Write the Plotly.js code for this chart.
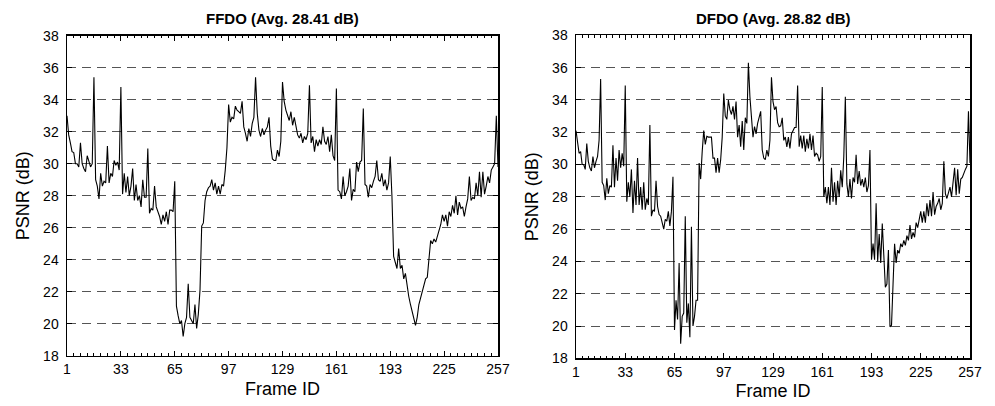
<!DOCTYPE html>
<html>
<head>
<meta charset="utf-8">
<script src="https://cdn.plot.ly/plotly-3.0.1.min.js"></script>
<style>
  html, body { margin: 0; padding: 0; background: #fff; }
  #chart { width: 995px; height: 406px; }
</style>
</head>
<body>
<div id="chart"></div>
<script>
// PSNR per frame (dB), FFDO method
const ffdoPSNR = [
  33.0, 31.8, 31.3, 30.75, 30.7, 30.0, 30.0, 29.8, 31.3, 30.0,
  29.7, 29.5, 30.5, 30.1, 29.8, 30.0, 35.4, 29.0, 28.6, 27.8,
  29.4, 28.6, 28.9, 28.8, 31.1, 28.8, 29.4, 29.2, 30.2, 29.9,
  30.1, 29.6, 34.8, 28.1, 29.4, 28.2, 29.2, 28.0, 28.6, 29.7,
  27.7, 28.7, 27.7, 28.0, 27.3, 29.0, 27.9, 27.9, 30.95, 26.9,
  27.2, 27.1, 28.6, 27.3, 27.0, 26.7, 26.2, 26.8, 26.4, 27.0,
  26.2, 27.1, 27.1, 27.0, 28.9, 21.1, 20.5, 20.0, 20.2, 19.2,
  20.0, 20.4, 22.5, 20.4, 20.2, 20.0, 21.2, 19.7, 20.6, 22.1,
  26.1, 26.3, 27.7, 28.25, 28.5, 28.6, 29.0, 28.35, 28.8, 28.1,
  28.6, 28.1, 28.7, 28.6, 29.6, 31.0, 33.7, 32.6, 32.9, 32.8,
  33.6, 33.35, 33.25, 33.15, 33.9, 32.3, 31.9, 31.4, 32.2, 31.7,
  32.5, 32.9, 35.4, 33.15, 32.1, 31.7, 32.2, 31.8, 32.1, 32.3,
  32.9, 31.1, 30.3, 30.2, 30.2, 30.85, 30.45, 31.4, 35.1, 33.9,
  33.35, 33.0, 32.7, 33.25, 32.4, 32.9, 32.3, 31.8, 31.6, 31.9,
  31.3, 31.7, 31.5, 31.9, 34.9, 31.3, 31.7, 30.75, 31.5, 31.1,
  31.5, 31.2, 32.3, 31.4, 31.2, 31.7, 30.75, 31.8, 30.5, 30.2,
  34.7, 28.35, 28.25, 27.8, 29.2, 28.0, 28.25, 28.6, 29.7, 27.7,
  28.4, 28.25, 30.1, 29.5, 30.1, 30.2, 33.45, 28.7, 28.6, 27.9,
  28.7, 28.5, 28.9, 29.2, 30.2, 29.0, 28.9, 29.4, 28.6, 29.0,
  28.35, 28.8, 30.45, 28.0, 24.2, 23.8, 23.45, 24.7, 23.45, 23.65,
  22.8, 23.15, 22.3, 21.7, 21.2, 20.75, 20.2, 19.9, 20.4, 21.2,
  21.6, 22.0, 22.5, 22.8, 22.9, 23.9, 25.2, 25.0, 25.3, 25.1,
  25.5, 25.8, 26.2, 26.8, 26.4, 26.8, 26.1, 27.0, 26.7, 27.4,
  26.9, 28.0, 26.8, 27.6, 27.2, 27.3, 26.7, 27.3, 27.8, 29.2,
  27.7, 27.9, 27.8, 28.8, 28.0, 29.5, 27.9, 29.5, 28.1, 28.6,
  29.2, 28.8, 29.6, 29.8, 30.0, 33.0, 29.8
];

// PSNR per frame (dB), DFDO method
const dfdoPSNR = [
  32.1, 31.3, 30.7, 30.8, 30.0, 30.0, 29.7, 31.3, 30.2, 29.8,
  29.6, 30.5, 29.8, 30.2, 30.5, 31.5, 35.3, 28.9, 28.7, 27.8,
  29.15, 28.2, 28.7, 28.6, 31.2, 28.6, 30.4, 29.0, 30.9, 29.8,
  30.7, 29.9, 34.9, 27.7, 28.9, 28.0, 29.7, 27.0, 29.0, 27.5,
  30.4, 27.5, 28.6, 27.2, 28.9, 27.2, 27.9, 27.5, 32.45, 26.8,
  27.2, 27.1, 29.0, 27.4, 26.9, 26.8, 26.4, 26.0, 26.6, 26.5,
  27.1, 26.2, 27.1, 29.25, 19.75, 21.6, 20.4, 23.9, 18.9, 20.6,
  20.8, 26.8, 20.2, 21.4, 19.3, 26.15, 20.0, 20.6, 21.6, 21.6,
  30.1, 29.1, 30.8, 32.1, 31.25, 31.75, 31.7, 31.7, 31.7, 30.4,
  30.4, 29.5, 30.4, 29.5, 30.3, 31.7, 34.4, 33.0, 32.8, 34.0,
  33.4, 33.1, 33.6, 32.8, 33.9, 31.7, 32.45, 31.1, 32.7, 30.9,
  32.9, 32.55, 36.3, 34.2, 32.7, 31.7, 32.35, 31.9, 32.55, 32.9,
  33.3, 30.9, 30.4, 30.3, 30.9, 30.5, 31.5, 35.4, 33.9, 33.4,
  33.6, 32.6, 32.35, 32.4, 32.9, 31.5, 31.7, 31.1, 31.7, 31.0,
  31.9, 32.1, 32.3, 32.3, 34.9, 31.1, 31.8, 31.0, 31.8, 30.8,
  31.6, 31.0, 31.9, 30.9, 31.8, 30.5, 30.7, 30.6, 30.2, 30.5,
  34.8, 28.0, 28.6, 27.6, 28.6, 27.5, 29.8, 27.7, 28.9, 27.5,
  29.0, 28.0, 29.65, 28.6, 30.5, 34.2, 28.8, 28.0, 29.1, 27.9,
  29.2, 28.9, 30.6, 28.8, 29.6, 28.7, 29.1, 28.6, 29.2, 28.3,
  28.7, 30.9, 24.1, 25.1, 24.1, 27.6, 24.0, 25.7, 23.9, 26.35,
  23.8, 22.4, 22.6, 24.7, 19.95, 20.05, 22.6, 25.1, 23.9, 24.7,
  24.5, 25.1, 24.9, 25.3, 25.0, 25.6, 25.3, 26.25, 25.4, 25.8,
  25.5, 26.4, 26.1, 26.6, 27.1, 26.4, 27.1, 26.4, 27.6, 26.8,
  27.8, 26.8, 28.3, 26.9, 27.4, 27.6, 27.9, 27.2, 27.6, 30.2,
  28.2, 27.9, 28.2, 28.6, 28.0, 28.8, 29.8, 28.1, 29.7, 28.2,
  29.1, 29.2, 29.5, 29.7, 29.9, 33.3, 30.1
];

const frameTicks = [1, 33, 65, 97, 129, 161, 193, 225, 257];
const psnrTicks = [18, 20, 22, 24, 26, 28, 30, 32, 34, 36, 38];
const panelTitles = ['FFDO (Avg. 28.41 dB)', 'DFDO (Avg. 28.82 dB)'];
const xTitle = 'Frame ID';
const yTitle = 'PSNR (dB)';

const FONT = 'Liberation Sans, Arial, Helvetica, sans-serif';

const traces = [
  { y: ffdoPSNR, x0: 1, dx: 1, type: 'scatter', mode: 'lines',
    line: { color: '#000', width: 1.1 }, xaxis: 'x', yaxis: 'y', hoverinfo: 'x+y' },
  { y: dfdoPSNR, x0: 1, dx: 1, type: 'scatter', mode: 'lines',
    line: { color: '#000', width: 1.1 }, xaxis: 'x2', yaxis: 'y2', hoverinfo: 'x+y' }
];

function xAxis(domain, anchor) {
  return {
    domain: domain, anchor: anchor, range: [1, 257],
    tickmode: 'array', tickvals: frameTicks, ticktext: frameTicks.map(String),
    showline: true, linecolor: '#000', linewidth: 1.5, mirror: 'allticks',
    ticks: 'inside', ticklen: 5, tickwidth: 1, tickcolor: '#000',
    minor: { tick0: 1, dtick: 4, ticks: 'inside', ticklen: 2.5, tickcolor: '#000', tickwidth: 1, showgrid: false },
    showgrid: false, zeroline: false, automargin: false,
    tickfont: { family: FONT, size: 14, color: '#000' },
    title: { text: xTitle, font: { family: FONT, size: 18, color: '#000' }, standoff: 6 }
  };
}
function yAxis(domain, anchor) {
  return {
    domain: domain, anchor: anchor, range: [18, 38],
    tickmode: 'array', tickvals: psnrTicks,
    showline: true, linecolor: '#000', linewidth: 1.5, mirror: 'allticks',
    ticks: 'inside', ticklen: 5, tickwidth: 1, tickcolor: '#000',
    showgrid: true, gridcolor: '#555555', gridwidth: 1, griddash: '9px,6px',
    zeroline: false, automargin: false, ticklabelstandoff: 4,
    tickfont: { family: FONT, size: 14, color: '#000' },
    title: { text: yTitle, font: { family: FONT, size: 18, color: '#000' }, standoff: 9 }
  };
}

const W = 995, H = 406;
const leftX = [67 / W, 498 / W];
const rightX = [576 / W, 970 / W];
const leftY = [1 - 355.7 / H, 1 - 35.7 / H];
const rightY = [1 - 358.3 / H, 1 - 35.4 / H];

const layout = {
  width: W, height: H,
  margin: { l: 0, r: 0, t: 0, b: 0, pad: 0 },
  paper_bgcolor: '#fff', plot_bgcolor: '#fff',
  showlegend: false,
  font: { family: FONT, color: '#000' },
  xaxis: xAxis(leftX, 'y'),
  yaxis: yAxis(leftY, 'x'),
  xaxis2: xAxis(rightX, 'y2'),
  yaxis2: yAxis(rightY, 'x2'),
  annotations: [
    { text: '<b>' + panelTitles[0] + '</b>', xref: 'paper', yref: 'paper',
      x: (leftX[0] + leftX[1]) / 2, y: 1 - 18 / H, xanchor: 'center', yanchor: 'middle',
      showarrow: false, font: { family: FONT, size: 15, color: '#000' } },
    { text: '<b>' + panelTitles[1] + '</b>', xref: 'paper', yref: 'paper',
      x: (rightX[0] + rightX[1]) / 2, y: 1 - 18 / H, xanchor: 'center', yanchor: 'middle',
      showarrow: false, font: { family: FONT, size: 15, color: '#000' } }
  ]
};

Plotly.newPlot('chart', traces, layout, { staticPlot: true, displayModeBar: false });
</script>
</body>
</html>
